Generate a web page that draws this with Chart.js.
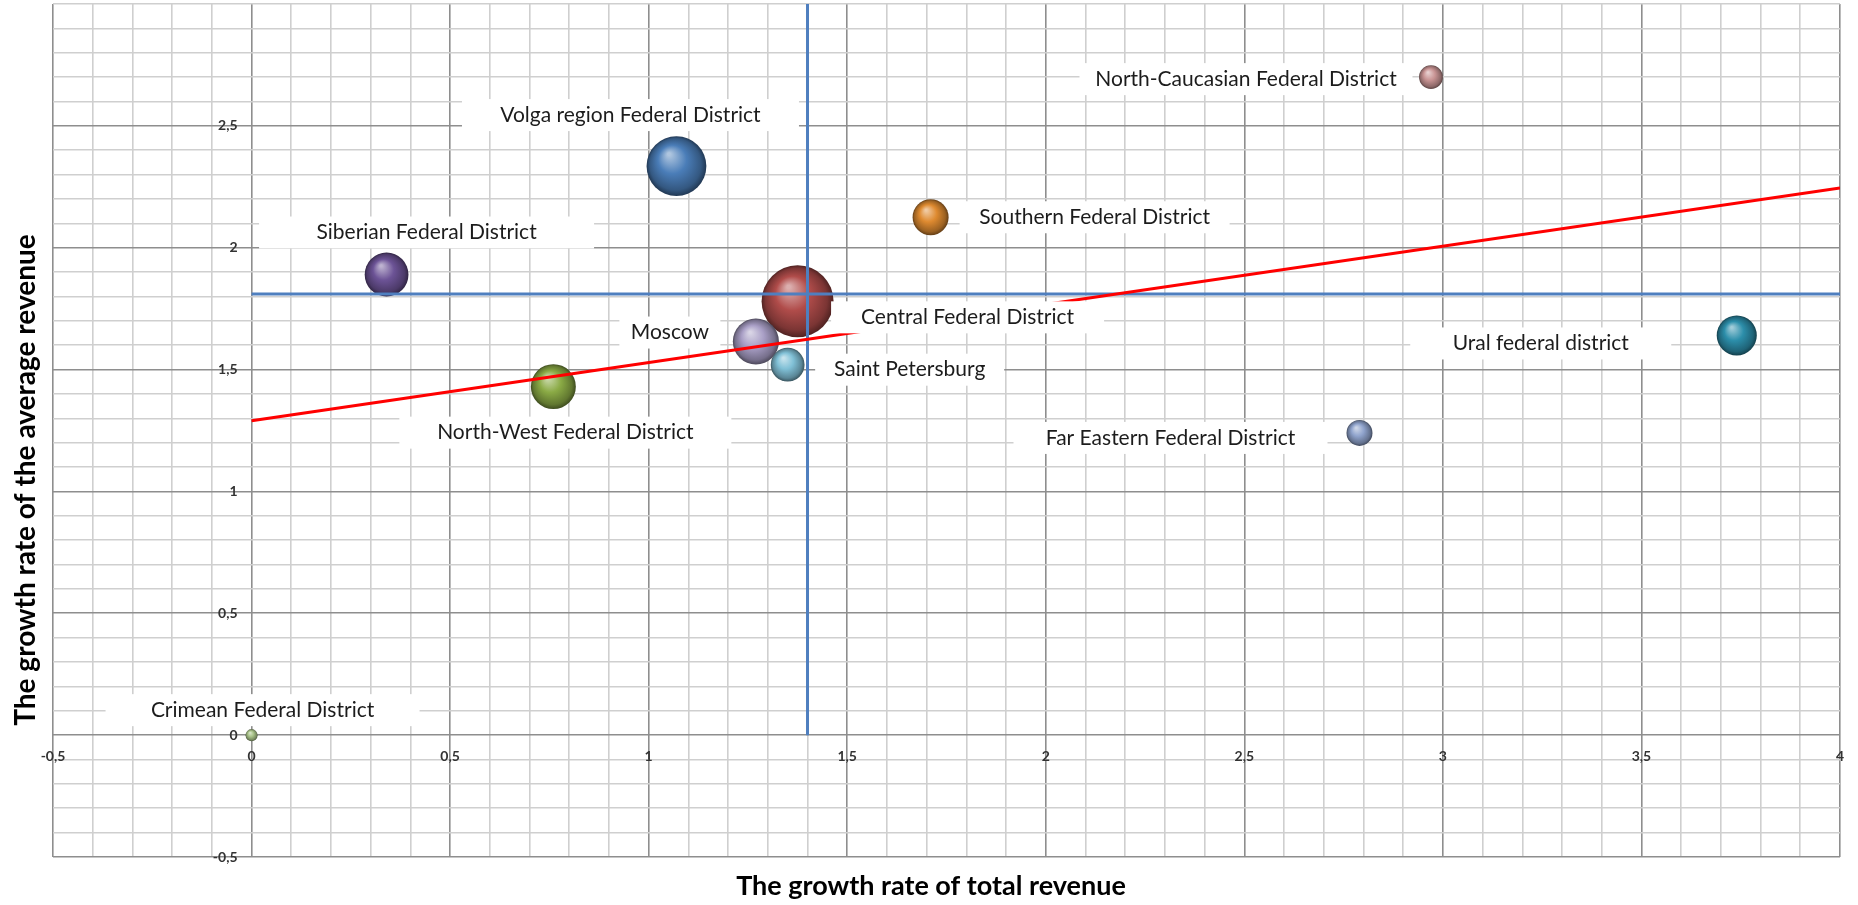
<!DOCTYPE html>
<html>
<head>
<meta charset="utf-8">
<script src="https://cdn.jsdelivr.net/npm/chart.js@4.4.1/dist/chart.umd.min.js"></script>
<style>
    html, body { margin: 0; padding: 0; background: #fff; }
    #wrap { width: 1858px; height: 905px; position: relative; }
</style>
</head>
<body>
<div id="wrap"><canvas id="graph"></canvas></div>
<script>
//districts and the values
const districts = [
    "Volga region Federal District", "North-Caucasian Federal District", "Southern Federal District",
    "Siberian Federal District", "Central Federal District", "Moscow", "Saint Petersburg",
    "North-West Federal District", "Ural federal district", "Far Eastern Federal District",
    "Crimean Federal District"
];
const totalGrowth = [1.07, 2.97, 1.71, 0.34, 1.375, 1.27, 1.35, 0.76, 3.74, 2.79, 0];
const averageGrowth = [2.335, 2.70, 2.125, 1.89, 1.78, 1.615, 1.52, 1.43, 1.64, 1.24, 0];
const bubbleSize = [69, 11, 25, 37, 100, 41, 22, 39, 31, 13, 2.8];

//mean lines and trend line
const meanTotal = 1.40;
const meanAverage = 1.81;
const trendX = [0, 4];
const trendY = [1.29, 2.245];

//tick labels
const xTicks = [-0.5, 0, 0.5, 1, 1.5, 2, 2.5, 3, 3.5, 4];
const yTicks = [-0.5, 0, 0.5, 1, 1.5, 2, 2.5];

//styles
const bubbleColors = ['#4a7db8', '#c99494', '#de8a30', '#6c5396', '#b04c4a', '#a99fc6',
    '#80c0d6', '#8aaa45', '#2c8eaa', '#8fa3cc', '#a8c288'];
const labelOffsets = [[-46, -51], [-185, 2], [164, 0], [40, -42], [170, 16], [-86, -9],
    [122, 5], [12, 46], [-196, 8], [-189, 5], [11, -25]];
const boxWidths = [337, 333, 270, 335, 273, 101, 189, 332, 261, 314, 314];
const labelFont = '21px Lato';
const tickFont = 'bold 14px Lato';

const fmt = v => String(v).replace('.', ',');
const isMajor = v => Math.abs(v * 2 - Math.round(v * 2)) < 1e-6;

function gridValues(min, max) {
    const out = [];
    for (let i = Math.round(min * 10); i <= Math.round(max * 10); i++) {
        out.push({ value: i / 10 });
    }
    return out;
}

function mix(hex, target, t) {
    const a = parseInt(hex.slice(1), 16);
    const b = parseInt(target.slice(1), 16);
    const ch = s => {
        const ca = (a >> s) & 255, cb = (b >> s) & 255;
        return Math.round(ca + (cb - ca) * t);
    };
    return `rgb(${ch(16)},${ch(8)},${ch(0)})`;
}

//3d looking ball fill
function sphere(c) {
    const base = bubbleColors[c.dataIndex] || '#888888';
    const chart = c.chart;
    const raw = c.raw;
    if (!raw || !chart.scales || !chart.scales.x || !chart.scales.y) return base;
    const px = chart.scales.x.getPixelForValue(raw.x);
    const py = chart.scales.y.getPixelForValue(raw.y);
    const r = raw.r;
    if (!isFinite(px) || !isFinite(py) || !isFinite(r)) return base;
    const g = chart.ctx.createRadialGradient(px - r * 0.25, py - r * 0.4, r * 0.05, px, py, r);
    g.addColorStop(0, mix(base, '#ffffff', 0.55));
    g.addColorStop(0.45, base);
    g.addColorStop(0.85, mix(base, '#000000', 0.3));
    g.addColorStop(1, mix(base, '#000000', 0.55));
    return g;
}

//tick labels, axis titles and data labels
const textPlugin = {
    id: 'texts',
    afterDatasetsDraw(chart) {
        const { ctx, scales: { x, y } } = chart;
        ctx.save();

        //white label boxes
        districts.forEach((name, i) => {
            const px = x.getPixelForValue(totalGrowth[i]) + labelOffsets[i][0];
            const py = y.getPixelForValue(averageGrowth[i]) + labelOffsets[i][1];
            ctx.fillStyle = '#ffffff';
            ctx.fillRect(px - boxWidths[i] / 2, py - 16, boxWidths[i], 32);
        });

        ctx.font = labelFont;
        ctx.fillStyle = '#1c1c1c';
        ctx.textAlign = 'center';
        ctx.textBaseline = 'middle';
        districts.forEach((name, i) => {
            const px = x.getPixelForValue(totalGrowth[i]) + labelOffsets[i][0];
            const py = y.getPixelForValue(averageGrowth[i]) + labelOffsets[i][1];
            ctx.fillText(name, px, py);
        });

        //tick labels sit on the zero lines
        ctx.font = tickFont;
        ctx.fillStyle = '#333333';
        const y0 = y.getPixelForValue(0);
        const x0 = x.getPixelForValue(0);
        xTicks.forEach(v => {
            ctx.textAlign = 'center';
            ctx.fillText(fmt(v), x.getPixelForValue(v), y0 + 21);
        });
        yTicks.forEach(v => {
            ctx.textAlign = 'right';
            ctx.fillText(fmt(v), x0 - 14, y.getPixelForValue(v));
        });

        //axis titles
        ctx.fillStyle = '#000000';
        ctx.textAlign = 'center';
        ctx.font = 'bold 27px Lato';
        ctx.fillText('The growth rate of total revenue', 931, 886);
        ctx.font = 'bold 28px Lato';
        ctx.translate(26, 480);
        ctx.rotate(-Math.PI / 2);
        ctx.fillText('The growth rate of the average revenue', 0, 0);
        ctx.restore();
    }
};

const graph = document.getElementById('graph');

new Chart(graph, {
    data: {
        datasets: [
            {
                type: 'line',
                label: 'Trend',
                data: trendX.map((v, i) => ({ x: v, y: trendY[i] })),
                borderColor: '#ff0000',
                borderWidth: 3,
                pointRadius: 0,
                order: 0
            },
            {
                type: 'line',
                label: 'Mean total',
                data: [{ x: meanTotal, y: 0 }, { x: meanTotal, y: 3 }],
                borderColor: '#4f7fbf',
                borderWidth: 3,
                pointRadius: 0,
                order: 1
            },
            {
                type: 'line',
                label: 'Mean average',
                data: [{ x: 0, y: meanAverage }, { x: 4, y: meanAverage }],
                borderColor: '#4f7fbf',
                borderWidth: 3,
                pointRadius: 0,
                order: 1
            },
            {
                type: 'bubble',
                label: 'Districts',
                data: districts.map((d, i) => ({
                    x: totalGrowth[i],
                    y: averageGrowth[i],
                    r: Math.sqrt(bubbleSize[i]) * 3.6
                })),
                backgroundColor: sphere,
                borderWidth: 0,
                clip: false,
                order: 2
            }
        ]
    },
    options: {
        responsive: true,
        maintainAspectRatio: false,
        animation: false,
        layout: { autoPadding: false, padding: { left: 53, right: 18, top: 4, bottom: 48 } },
        plugins: {
            legend: { display: false },
            tooltip: { enabled: false }
        },
        scales: {
            x: {
                type: 'linear',
                min: -0.5,
                max: 4,
                afterBuildTicks: s => { s.ticks = gridValues(-0.5, 4); },
                ticks: { display: false, autoSkip: false },
                grid: {
                    drawTicks: false,
                    color: c => isMajor(c.tick.value) ? '#8e8e8e' : '#cfcfcf',
                    lineWidth: 1.6
                },
                border: { display: false }
            },
            y: {
                type: 'linear',
                min: -0.5,
                max: 3,
                afterBuildTicks: s => { s.ticks = gridValues(-0.5, 3); },
                ticks: { display: false, autoSkip: false },
                grid: {
                    drawTicks: false,
                    color: c => (isMajor(c.tick.value) && c.tick.value < 3) ? '#8e8e8e' : '#cfcfcf',
                    lineWidth: 1.6
                },
                border: { display: false }
            }
        }
    },
    plugins: [textPlugin]
});
</script>
</body>
</html>
